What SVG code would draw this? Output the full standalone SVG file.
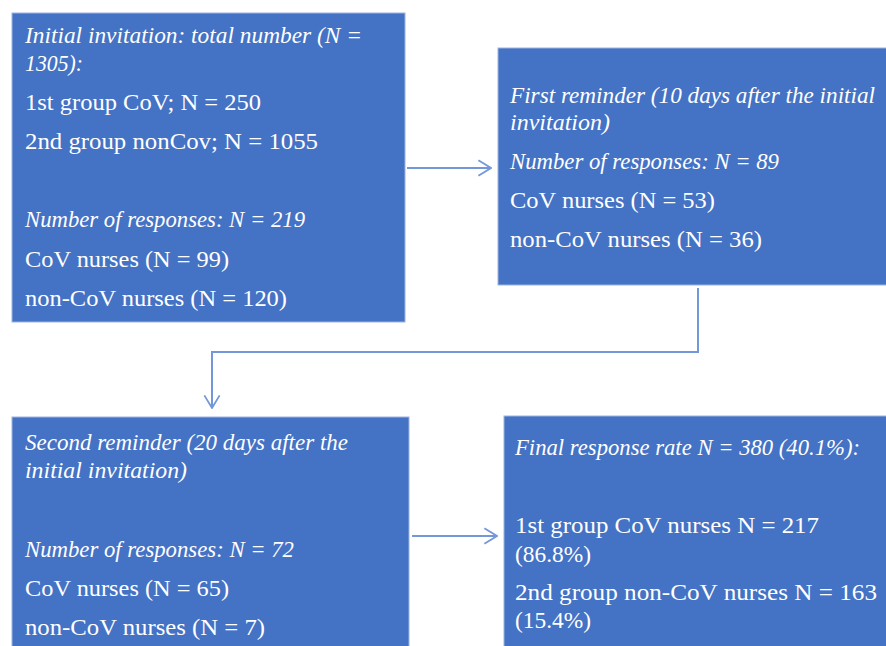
<svg xmlns="http://www.w3.org/2000/svg" width="886" height="646" viewBox="0 0 886 646">
<style>
  .box { fill: #4472C4; stroke: #9DB4E0; stroke-width: 1; }
  .t { font-family: "Liberation Serif", "Times New Roman", serif; font-size: 23.5px; fill: #FFFFFF; }
  .i { font-style: italic; }
  .conn { fill: none; stroke: #7397DA; stroke-width: 2; }
</style>
<defs>
  <marker id="arr" viewBox="0 0 16 20" markerWidth="15" markerHeight="18" refX="15" refY="10" orient="auto" markerUnits="userSpaceOnUse">
    <path d="M1,1.5 L15,10 L1,18.5" fill="none" stroke="#7397DA" stroke-width="2"/>
  </marker>
</defs>
<rect width="886" height="646" fill="#FFFFFF"/>

<g id="connectors">
  <path class="conn" d="M407,168 L491,168" marker-end="url(#arr)"/>
  <path class="conn" d="M698,288 L698,352 L212,352 L212,408" marker-end="url(#arr)"/>
  <path class="conn" d="M412,536 L497,536" marker-end="url(#arr)"/>
</g>

<g id="node-initial">
  <rect class="box" x="12" y="13" width="393" height="309"/>
  <text class="t i" x="25" y="43" textLength="337" lengthAdjust="spacingAndGlyphs">Initial invitation: total number (N =</text>
  <text class="t i" x="25" y="71" textLength="58" lengthAdjust="spacingAndGlyphs">1305):</text>
  <text class="t" x="25" y="110" textLength="236" lengthAdjust="spacingAndGlyphs">1st group CoV; N = 250</text>
  <text class="t" x="25" y="149" textLength="293" lengthAdjust="spacingAndGlyphs">2nd group nonCov; N = 1055</text>
  <text class="t i" x="25" y="227" textLength="280" lengthAdjust="spacingAndGlyphs">Number of responses: N = 219</text>
  <text class="t" x="25" y="267" textLength="204" lengthAdjust="spacingAndGlyphs">CoV nurses (N = 99)</text>
  <text class="t" x="25" y="306" textLength="262" lengthAdjust="spacingAndGlyphs">non-CoV nurses (N = 120)</text>
</g>

<g id="node-first-reminder">
  <rect class="box" x="498" y="48" width="392" height="237"/>
  <text class="t i" x="510" y="103" textLength="365" lengthAdjust="spacingAndGlyphs">First reminder (10 days after the initial</text>
  <text class="t i" x="510" y="130" textLength="100" lengthAdjust="spacingAndGlyphs">invitation)</text>
  <text class="t i" x="510" y="169" textLength="269" lengthAdjust="spacingAndGlyphs">Number of responses: N = 89</text>
  <text class="t" x="510" y="208" textLength="205" lengthAdjust="spacingAndGlyphs">CoV nurses (N = 53)</text>
  <text class="t" x="510" y="247" textLength="252" lengthAdjust="spacingAndGlyphs">non-CoV nurses (N = 36)</text>
</g>

<g id="node-second-reminder">
  <rect class="box" x="12" y="417" width="397" height="240"/>
  <text class="t i" x="25" y="450" textLength="323" lengthAdjust="spacingAndGlyphs">Second reminder (20 days after the</text>
  <text class="t i" x="25" y="478" textLength="162" lengthAdjust="spacingAndGlyphs">initial invitation)</text>
  <text class="t i" x="25" y="557" textLength="269" lengthAdjust="spacingAndGlyphs">Number of responses: N = 72</text>
  <text class="t" x="25" y="596" textLength="204" lengthAdjust="spacingAndGlyphs">CoV nurses (N = 65)</text>
  <text class="t" x="25" y="635" textLength="240" lengthAdjust="spacingAndGlyphs">non-CoV nurses (N = 7)</text>
</g>

<g id="node-final">
  <rect class="box" x="504" y="416" width="386" height="240"/>
  <text class="t i" x="515" y="455" textLength="345" lengthAdjust="spacingAndGlyphs">Final response rate N = 380 (40.1%):</text>
  <text class="t" x="515" y="533" textLength="304" lengthAdjust="spacingAndGlyphs">1st group CoV nurses N = 217</text>
  <text class="t" x="515" y="562" textLength="76" lengthAdjust="spacingAndGlyphs">(86.8%)</text>
  <text class="t" x="515" y="600" textLength="362" lengthAdjust="spacingAndGlyphs">2nd group non-CoV nurses N = 163</text>
  <text class="t" x="515" y="628" textLength="76" lengthAdjust="spacingAndGlyphs">(15.4%)</text>
</g>
</svg>
